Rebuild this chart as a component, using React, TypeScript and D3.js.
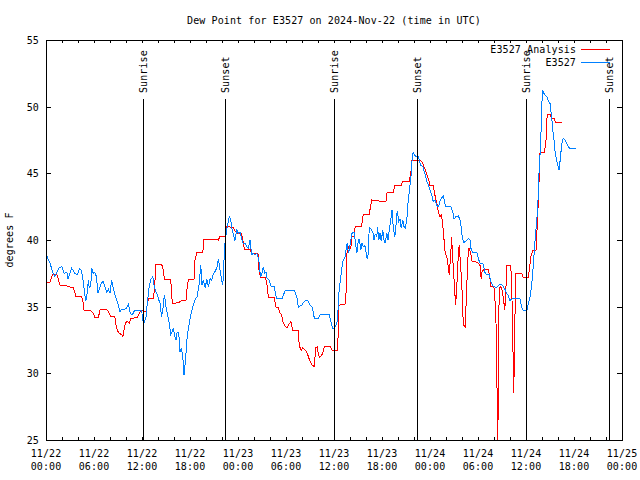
import React from "react";
import * as d3 from "d3";

const W = 640;
const H = 480;
const START = Date.UTC(2024, 10, 22, 0, 0);
const END = Date.UTC(2024, 10, 25, 0, 0);
const HOUR = 3600 * 1000;

const title = "Dew Point for E3527 on 2024-Nov-22 (time in UTC)";
const yLabel = "degrees F";
const yTicks = [25, 30, 35, 40, 45, 50, 55];
const xTickHours = [0, 6, 12, 18, 24, 30, 36, 42, 48, 54, 60, 66, 72];
const xTickDates = ["11/22", "11/22", "11/22", "11/22", "11/23", "11/23", "11/23", "11/23", "11/24", "11/24", "11/24", "11/24", "11/25"];
const xTickTimes = ["00:00", "06:00", "12:00", "18:00", "00:00", "06:00", "12:00", "18:00", "00:00", "06:00", "12:00", "18:00", "00:00"];
const sunHours = [12.1, 22.4, 36.05, 46.4, 60.0, 70.4];
const sunLabels = ["Sunrise", "Sunset", "Sunrise", "Sunset", "Sunrise", "Sunset"];
const seriesNames = ["E3527 Analysis", "E3527"];
const seriesColors = ["#ff0000", "#0080ff"];

// [hours since 11/22 00:00 UTC, dew point F]
const analysis: [number, number][] = [
  [0,36.8],[0.45,36.8],[0.6,37.0],[0.8,37.4],[1.35,37.4],[1.55,37.05],[1.75,36.6],[2.6,36.6],[2.65,36.5],[3.4,36.45],[3.6,36.1],[3.75,35.75],[4.45,35.75],[4.6,35.5],[4.75,34.75],[5.5,34.75],[5.9,34.5],[6.1,34.2],[6.55,34.2],[6.75,34.75],[7.6,34.8],[7.9,34.5],[8.1,34.25],[8.6,34.25],[8.75,33.6],[8.9,33.25],[9.15,33.0],[9.45,32.9],[9.6,32.75],[9.75,33.25],[9.95,33.8],[10.15,33.9],[10.4,33.75],[10.6,34.1],[11.45,34.2],[11.65,34.5],[11.85,34.7],[12.5,34.65],[12.8,35.6],[13.4,35.6],[13.55,36.25],[13.75,38.2],[14.45,38.2],[14.65,37.75],[14.8,37.05],[15.6,37.05],[15.7,35.75],[15.85,35.25],[16.65,35.3],[16.75,35.4],[17.5,35.5],[17.65,36.5],[17.8,37.05],[18.5,37.05],[18.6,38.4],[18.85,39.05],[19.6,39.05],[19.75,40.05],[21.55,40.0],[21.75,40.3],[22.4,40.3],[22.6,41.0],[23.4,40.95],[23.6,40.7],[23.85,40.5],[24.45,40.45],[24.6,40.0],[24.8,39.3],[25.5,39.3],[25.7,39.0],[26.5,38.95],[26.55,38.4],[26.65,37.6],[26.85,37.2],[27.4,37.2],[27.6,36.8],[27.7,36.25],[27.8,35.7],[28.55,35.7],[28.7,35.0],[29.05,34.9],[29.25,34.55],[29.45,34.4],[29.6,33.9],[29.8,33.6],[30.1,33.4],[30.3,33.6],[30.6,33.9],[30.85,33.2],[31.55,33.2],[31.65,32.1],[31.9,31.7],[32.05,31.9],[32.4,31.75],[32.6,31.6],[32.8,31.25],[33.0,30.9],[33.3,30.6],[33.55,30.5],[33.7,31.9],[33.9,32.0],[34.05,31.4],[34.25,31.2],[34.55,31.45],[34.8,32.05],[35.5,32.05],[35.8,31.7],[36.45,31.7],[36.55,33.5],[36.6,35.1],[37.4,35.2],[37.5,36.0],[37.6,38.0],[37.65,39.75],[37.8,39.4],[38.1,39.4],[38.25,40.25],[38.5,40.25],[38.65,41.0],[39.45,41.0],[39.6,41.7],[39.65,41.95],[40.4,41.95],[40.6,42.6],[40.7,43.0],[41.55,42.95],[41.75,42.9],[42.5,42.9],[42.65,43.6],[43.4,43.6],[43.6,44.1],[44.4,44.1],[44.6,44.4],[45.4,44.4],[45.6,45.0],[45.75,45.95],[46.85,45.95],[47.0,45.85],[47.25,45.5],[47.5,45.1],[47.65,44.8],[47.9,44.4],[48.0,44.1],[48.4,44.1],[48.6,43.4],[48.85,42.75],[49.05,42.1],[49.25,41.75],[49.45,41.9],[49.65,40.75],[49.9,39.0],[50.1,38.75],[50.3,37.9],[50.4,37.4],[50.6,39.0],[50.7,40.2],[50.85,38.5],[50.95,37.6],[51.1,36.1],[51.2,35.1],[51.35,36.5],[51.55,39.0],[51.65,39.6],[51.85,37.9],[52.0,36.25],[52.1,34.4],[52.25,33.6],[52.4,33.5],[52.6,36.5],[52.7,38.4],[52.85,39.4],[53.1,39.0],[53.25,38.4],[53.6,38.4],[54.05,38.25],[54.25,38.1],[54.4,37.1],[54.5,37.6],[54.75,37.8],[55.3,37.75],[55.5,37.1],[55.6,36.5],[55.85,36.5],[56.0,36.4],[56.1,35.75],[56.25,33.75],[56.4,28.0],[56.45,25.0],[56.55,27.9],[56.6,34.8],[56.75,36.5],[56.95,36.4],[57.15,35.75],[57.35,34.75],[57.45,35.75],[57.6,38.1],[58.1,38.1],[58.25,35.5],[58.4,30.9],[58.45,28.5],[58.55,30.9],[58.65,35.5],[58.75,37.5],[59.45,37.5],[59.65,37.2],[60.3,37.2],[60.4,37.7],[60.6,38.75],[60.9,39.25],[61.25,39.25],[61.4,41.0],[61.55,43.0],[61.65,44.75],[61.75,46.55],[62.25,46.55],[62.4,47.0],[62.5,47.5],[62.65,49.45],[63.0,49.45],[63.2,49.1],[63.55,49.1],[63.65,48.85],[64.45,48.85]
];

const station: [number, number][] = [
  [0,38.95],[0.5,38.25],[0.9,37.5],[1.1,37.25],[1.6,37.9],[2.0,38.0],[2.25,37.5],[2.6,37.6],[2.75,37.1],[3.2,37.9],[3.6,37.5],[3.9,37.4],[4.2,37.85],[4.4,37.75],[4.6,37.1],[4.75,36.4],[4.95,35.4],[5.1,35.75],[5.3,37.0],[5.4,36.4],[5.6,36.6],[5.7,37.9],[5.9,37.5],[6.1,37.6],[6.3,37.25],[6.5,36.0],[6.75,36.5],[6.95,36.8],[7.15,36.9],[7.4,36.4],[7.6,36.1],[7.8,36.3],[8.0,36.0],[8.2,37.0],[8.4,36.4],[8.6,35.9],[8.85,35.5],[9.05,35.1],[9.25,34.6],[9.45,34.8],[9.65,34.8],[10.0,34.85],[10.3,35.2],[10.5,34.6],[10.7,34.4],[10.9,34.5],[11.1,34.75],[11.55,34.75],[11.95,34.75],[12.1,34.0],[12.25,33.8],[12.5,34.25],[12.66,35.25],[12.9,36.5],[13.1,37.05],[13.35,37.25],[13.5,36.6],[13.65,36.25],[13.85,36.0],[14.05,35.6],[14.25,35.25],[14.45,34.25],[14.65,35.0],[14.8,35.9],[15.0,35.0],[15.15,34.5],[15.4,33.75],[15.6,32.9],[15.75,33.1],[15.9,33.4],[16.1,32.75],[16.25,32.5],[16.4,33.1],[16.6,33.0],[16.75,31.6],[16.9,31.9],[17.1,31.25],[17.25,29.9],[17.4,30.75],[17.5,31.5],[17.65,32.75],[17.9,33.75],[18.1,34.4],[18.35,35.0],[18.6,35.5],[18.9,35.75],[19.15,36.75],[19.35,38.1],[19.5,36.6],[19.65,37.0],[19.9,36.4],[20.1,37.05],[20.3,36.5],[20.5,37.1],[20.7,37.0],[20.9,37.4],[21.1,37.6],[21.35,37.9],[21.55,38.6],[21.75,37.75],[21.95,37.0],[22.1,36.6],[22.25,38.5],[22.4,40.0],[22.65,41.0],[22.9,41.75],[23.1,41.5],[23.2,40.9],[23.4,40.5],[23.6,39.9],[23.85,40.75],[24.05,40.5],[24.25,40.6],[24.45,40.1],[24.65,39.75],[24.9,39.75],[25.1,39.5],[25.3,39.4],[25.5,40.0],[25.7,38.9],[25.9,39.0],[26.1,38.9],[26.35,39.0],[26.55,38.6],[26.65,38.25],[26.8,37.25],[26.95,37.4],[27.15,38.0],[27.35,37.5],[27.5,37.6],[27.65,37.1],[27.9,37.0],[28.1,36.55],[28.55,36.5],[28.7,35.9],[28.85,35.6],[29.55,35.6],[29.65,35.85],[29.9,36.2],[31.05,36.2],[31.35,35.75],[31.55,34.95],[31.75,35.05],[31.95,35.1],[32.3,35.4],[32.6,35.5],[32.8,35.4],[33.0,35.1],[33.3,34.95],[33.4,34.6],[33.55,34.1],[34.05,34.1],[34.25,34.4],[35.4,34.4],[35.6,33.9],[35.8,33.4],[36.1,33.4],[36.4,33.9],[36.45,34.1],[36.6,36.0],[36.85,37.25],[37.0,38.0],[37.15,38.5],[37.4,38.75],[37.5,39.25],[37.65,39.75],[37.8,39.0],[37.9,39.25],[38.1,40.0],[38.25,40.5],[38.5,40.6],[38.65,40.0],[38.85,39.0],[39.0,39.75],[39.15,40.1],[39.35,39.25],[39.5,39.75],[39.65,39.5],[39.85,39.6],[40.0,39.1],[40.15,38.6],[40.3,39.0],[40.4,40.95],[40.65,40.8],[40.85,40.6],[41.0,40.0],[41.15,40.45],[41.35,40.25],[41.45,40.95],[41.6,40.0],[41.75,40.5],[41.9,39.9],[42.1,40.75],[42.25,40.0],[42.4,39.75],[42.6,40.5],[42.75,40.0],[42.9,40.7],[43.1,41.5],[43.25,42.25],[43.4,41.0],[43.6,40.25],[43.75,41.1],[43.9,42.2],[44.1,41.4],[44.25,41.55],[44.4,40.9],[44.6,41.5],[44.75,41.0],[44.9,40.9],[45.1,41.5],[45.25,42.75],[45.4,43.6],[45.6,44.6],[45.75,45.9],[45.9,46.6],[46.1,46.35],[46.25,46.25],[46.5,46.3],[46.65,46.0],[46.85,45.6],[47.1,45.5],[47.4,44.9],[47.6,44.4],[47.8,44.1],[48.0,43.75],[48.2,43.4],[48.4,42.9],[48.6,43.0],[48.85,42.6],[49.05,42.5],[49.25,42.9],[49.45,43.15],[49.65,43.3],[49.95,42.55],[50.6,42.55],[50.85,42.1],[51.0,41.55],[51.25,41.75],[51.55,41.8],[51.75,41.5],[51.9,40.95],[52.05,40.1],[52.25,39.8],[52.6,40.0],[52.8,40.1],[53.0,40.0],[53.1,39.4],[53.35,39.05],[53.85,39.05],[54.05,38.6],[54.25,38.25],[54.65,38.2],[54.9,37.5],[55.15,37.4],[55.4,37.4],[55.6,36.9],[55.9,36.5],[56.35,36.45],[56.55,36.6],[56.85,36.7],[57.1,36.6],[57.4,36.25],[57.6,36.0],[57.8,35.8],[58.0,35.4],[58.1,35.55],[58.4,35.6],[59.25,35.6],[59.45,35.0],[59.65,34.7],[60.1,34.7],[60.3,35.25],[60.5,35.75],[60.7,36.5],[60.9,38.0],[61.1,39.75],[61.35,41.5],[61.55,43.5],[61.65,45.5],[61.8,46.75],[61.9,48.5],[62.0,50.4],[62.1,51.25],[62.3,50.9],[62.6,50.75],[62.8,50.4],[63.0,50.25],[63.1,49.75],[63.2,49.25],[63.35,48.25],[63.5,47.5],[63.65,46.5],[63.85,45.9],[64.05,45.4],[64.15,45.25],[64.35,46.5],[64.5,47.25],[64.65,47.6],[64.9,47.5],[65.1,47.25],[65.3,47.0],[65.5,46.85],[66.25,46.85]
];

const FONT = "'DejaVu Sans Mono', 'Liberation Mono', monospace";

export default function App() {
  const left = 46, right = 622, top = 40, bottom = 440;
  const x = d3.scaleUtc().domain([new Date(START), new Date(END)]).range([left, right]);
  const y = d3.scaleLinear().domain([25, 55]).range([bottom, top]);
  const hx = (h: number) => x(new Date(START + h * HOUR));

  const line = d3
    .line<[number, number]>()
    .x((d) => hx(d[0]))
    .y((d) => y(d[1]));

  const minorHours = d3.range(0, 73, 2);
  const textStyle: React.CSSProperties = { fontFamily: FONT, fontSize: "10px", letterSpacing: "0.1px" };

  return (
    <svg
      width={W}
      height={H}
      viewBox={`0 0 ${W} ${H}`}
      style={{ position: "absolute", left: 0, top: 0, background: "#fff" }}
    >
      <rect x={0} y={0} width={W} height={H} fill="#fff" />
      <defs>
        <clipPath id="plotclip">
          <rect x={left} y={top} width={right - left} height={bottom - top} />
        </clipPath>
      </defs>

      {/* title */}
      <text x={(left + right) / 2} y={24} textAnchor="middle" fill="#000" style={textStyle}>
        {title}
      </text>

      {/* y label */}
      <text
        transform={`translate(13, ${(top + bottom) / 2}) rotate(-90)`}
        textAnchor="middle"
        fill="#000"
        style={textStyle}
      >
        {yLabel}
      </text>

      {/* y ticks */}
      {yTicks.map((t) => (
        <g key={"y" + t}>
          <line x1={left} x2={left + 5} y1={Math.round(y(t)) + 0.5} y2={Math.round(y(t)) + 0.5} stroke="#000" shapeRendering="crispEdges" />
          <line x1={right - 5} x2={right} y1={Math.round(y(t)) + 0.5} y2={Math.round(y(t)) + 0.5} stroke="#000" shapeRendering="crispEdges" />
          <text x={39} y={y(t) + 4} textAnchor="end" fill="#000" style={textStyle}>
            {t}
          </text>
        </g>
      ))}

      {/* x ticks */}
      {minorHours.map((h) => (
        <g key={"x" + h}>
          <line x1={Math.round(hx(h)) + 0.5} x2={Math.round(hx(h)) + 0.5} y1={bottom} y2={bottom - 3} stroke="#000" shapeRendering="crispEdges" />
          <line x1={Math.round(hx(h)) + 0.5} x2={Math.round(hx(h)) + 0.5} y1={top} y2={top + 3} stroke="#000" shapeRendering="crispEdges" />
        </g>
      ))}
      {xTickHours.map((h, i) => (
        <g key={"xl" + h}>
          <text x={Math.min(hx(h), 622)} y={457} textAnchor="middle" fill="#000" style={textStyle}>
            {xTickDates[i]}
          </text>
          <text x={Math.min(hx(h), 622)} y={470} textAnchor="middle" fill="#000" style={textStyle}>
            {xTickTimes[i]}
          </text>
        </g>
      ))}

      {/* data */}
      <g clipPath="url(#plotclip)">
        <path d={line(analysis) || ""} fill="none" stroke={seriesColors[0]} strokeWidth={1} shapeRendering="crispEdges" />
        <path d={line(station) || ""} fill="none" stroke={seriesColors[1]} strokeWidth={1} shapeRendering="crispEdges" />
      </g>

      {/* sunrise / sunset */}
      {sunHours.map((h, i) => (
        <g key={"sun" + i}>
          <line
            x1={Math.round(hx(h)) + 0.5}
            x2={Math.round(hx(h)) + 0.5}
            y1={99}
            y2={bottom}
            stroke="#000"
            shapeRendering="crispEdges"
          />
          <text
            transform={`translate(${Math.round(hx(h)) + 4}, 93) rotate(-90)`}
            textAnchor="start"
            fill="#000"
            style={textStyle}
          >
            {sunLabels[i]}
          </text>
        </g>
      ))}

      {/* legend */}
      {seriesNames.map((n, i) => (
        <g key={"lg" + i}>
          <text x={576} y={53 + i * 13} textAnchor="end" fill="#000" style={textStyle}>
            {n}
          </text>
          <line x1={581} x2={610} y1={49.5 + i * 13} y2={49.5 + i * 13} stroke={seriesColors[i]} shapeRendering="crispEdges" />
        </g>
      ))}

      {/* frame */}
      <rect
        x={left + 0.5}
        y={top + 0.5}
        width={right - left}
        height={bottom - top}
        fill="none"
        stroke="#000"
        shapeRendering="crispEdges"
      />
    </svg>
  );
}
